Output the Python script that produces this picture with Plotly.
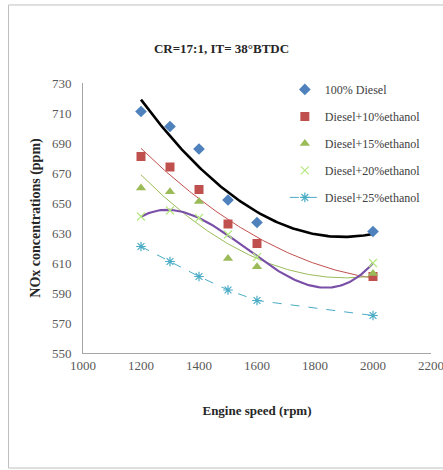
import numpy as np
import plotly.graph_objects as go

# Engine speed (rpm)
speed = [1200, 1300, 1400, 1500, 1600, 2000]

# NOx concentrations (ppm) per fuel blend
diesel_100 = [711, 701, 686, 652, 637, 631]
ethanol_10 = [681, 674, 659, 636, 623, 601]
ethanol_15 = [660, 657.5, 651, 613, 607.5, 603]
ethanol_20 = [641, 645, 640, 629, 614, 610]
ethanol_25 = [621, 611, 601, 592, 585, 575]

names = ["100% Diesel", "Diesel+10%ethanol", "Diesel+15%ethanol",
         "Diesel+20%ethanol", "Diesel+25%ethanol"]

x_ticks = [1000, 1200, 1400, 1600, 1800, 2000, 2200]
y_ticks = [550, 570, 590, 610, 630, 650, 670, 690, 710, 730]

SERIF = "Liberation Serif, Times New Roman, serif"

fig = go.Figure()


def trend(xs, ys, deg):
    coef = np.polyfit(xs, ys, deg)
    xx = np.linspace(min(xs), max(xs), 120)
    return xx, np.polyval(coef, xx)


# polynomial trend lines
for ys, deg, col, w in [(diesel_100, 2, "#000000", 2.6),
                        (ethanol_10, 2, "#C0504D", 1.0),
                        (ethanol_15, 2, "#9BBB59", 1.0),
                        (ethanol_20, 3, "#7A4FA8", 2.2)]:
    xx, yy = trend(speed, ys, deg)
    fig.add_trace(go.Scatter(x=xx, y=yy, mode="lines", showlegend=False,
                             hoverinfo="skip",
                             line=dict(color=col, width=w)))

fig.add_trace(go.Scatter(x=speed, y=diesel_100, mode="markers", name=names[0],
                         legendgroup="a",
                         marker=dict(symbol="diamond", size=9, color="#4F81BD")))
fig.add_trace(go.Scatter(x=speed, y=ethanol_10, mode="markers", name=names[1],
                         legendgroup="b",
                         marker=dict(symbol="square", size=9, color="#C0504D")))
fig.add_trace(go.Scatter(x=speed, y=ethanol_15, mode="markers", name=names[2],
                         legendgroup="c",
                         marker=dict(symbol="triangle-up", size=9, color="#9BBB59")))
fig.add_trace(go.Scatter(x=speed, y=ethanol_20, mode="markers", name=names[3],
                         legendgroup="d",
                         marker=dict(symbol="x-thin-open", size=8,
                                     line=dict(color="#A08CC4", width=1.2))))
fig.add_trace(go.Scatter(x=speed, y=ethanol_25, mode="lines+markers", name=names[4],
                         legendgroup="e",
                         line=dict(color="#4BACC6", width=1, dash="dash"),
                         marker=dict(symbol="asterisk-open", size=8,
                                     line=dict(color="#4BACC6", width=1.2))))

# outer chart frame
fig.add_shape(type="rect", xref="paper", yref="paper",
              x0=-0.214, x1=1.1, y0=-0.426, y1=1.289,
              line=dict(color="#BFBFBF", width=1), fillcolor="rgba(0,0,0,0)",
              layer="below")

fig.update_layout(
    width=443, height=470,
    margin=dict(l=83, r=12, t=83, b=117),
    paper_bgcolor="white", plot_bgcolor="white",
    font=dict(family=SERIF, size=12, color="#404040"),
    title=dict(text="<b>CR=17:1, IT= 38°BTDC</b>", x=0.5, xanchor="center",
               y=1 - 48 / 470, yanchor="middle",
               font=dict(family=SERIF, size=13, color="#262626")),
    legend=dict(x=0.58, y=1.03, xanchor="left", yanchor="top",
                bgcolor="rgba(0,0,0,0)", tracegroupgap=8,
                font=dict(family=SERIF, size=12, color="#404040"),
                itemwidth=30),
    xaxis=dict(range=[1000, 2200], tickvals=x_ticks, showgrid=False,
               zeroline=False, showline=True, linecolor="#A6A6A6",
               ticks="", automargin=False, ticklabeloverflow="allow",
               tickfont=dict(family=SERIF, size=13, color="#595959"),
               title=dict(text="<b>Engine speed (rpm)</b>", standoff=34,
                          font=dict(family=SERIF, size=13, color="#262626"))),
    yaxis=dict(range=[550, 730], tickvals=y_ticks, showgrid=False,
               zeroline=False, showline=True, linecolor="#A6A6A6",
               ticks="", ticklabelstandoff=8, automargin=False,
               tickfont=dict(family=SERIF, size=13, color="#595959"),
               title=dict(text="<b>NOx concentrations (ppm)</b>", standoff=8,
                          font=dict(family=SERIF, size=14, color="#262626"))),
)

fig.write_html("out.html")
